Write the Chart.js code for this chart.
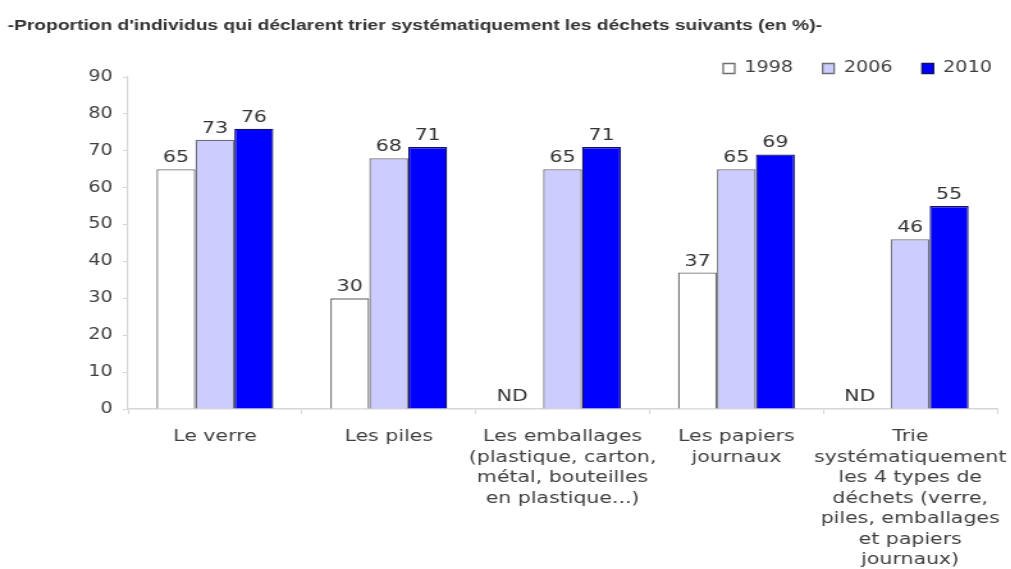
<!DOCTYPE html>
<html>
<head>
<meta charset="utf-8">
<script src="https://cdn.jsdelivr.net/npm/chart.js@4.4.1/dist/chart.umd.min.js"></script>
<style>
  body { margin: 0; background: #fff; overflow: hidden; }
  /* the reference image is stretched horizontally, so the chart is drawn narrower and widened */
  #wrap { width: 790px; height: 569px; transform: scaleX(1.28); transform-origin: 0 0; }
</style>
</head>
<body>
<div id="wrap"><canvas id="trisChart"></canvas></div>
<script>
const categories = [
    "Le verre",
    "Les piles",
    ["Les emballages", "(plastique, carton,", "métal, bouteilles", "en plastique...)"],
    ["Les papiers", "journaux"],
    ["Trie", "systématiquement", "les 4 types de", "déchets (verre,", "piles, emballages", "et papiers", "journaux)"]
];
const values1998 = [65, 30, null, 37, null];
const values2006 = [73, 68, 65, 65, 46];
const values2010 = [76, 71, 71, 69, 55];
const yTicks = [0, 10, 20, 30, 40, 50, 60, 70, 80, 90];

const axisFont = '"DejaVu Sans", Verdana, sans-serif';

// value labels above the bars, "ND" where there is no value
const barLabels = {
    id: 'barLabels',
    afterDatasetsDraw(chart) {
        const ctx = chart.ctx;
        const yScale = chart.scales.y;
        ctx.save();
        ctx.font = '16px ' + axisFont;
        ctx.fillStyle = '#333333';
        ctx.textAlign = 'center';
        ctx.textBaseline = 'alphabetic';
        chart.data.datasets.forEach((ds, i) => {
            chart.getDatasetMeta(i).data.forEach((bar, j) => {
                const v = ds.data[j];
                if (v === null) {
                    ctx.fillText('ND', bar.x - 9, yScale.getPixelForValue(0) - 8);
                } else {
                    ctx.fillText(String(v), bar.x, bar.y - 7);
                }
            });
        });
        ctx.restore();
    }
};

// legend: no extra 10px below it, and pushed a little to the right
const legendFit = {
    id: 'legendFit',
    afterInit(chart) {
        const fit = chart.legend.fit;
        chart.legend.fit = function () {
            fit.call(this);
            this.height = 39;
        };
    },
    afterLayout(chart) {
        chart.legend.left += 8;
        chart.legend.right += 8;
    }
};

const ctx = document.getElementById('trisChart').getContext('2d');
const trisChart = new Chart(ctx, {
    type: 'bar',
    data: {
        labels: categories,
        datasets: [
            {
                label: '1998',
                data: values1998,
                backgroundColor: '#ffffff',
                borderColor: '#6e6e6e',
                borderWidth: 1.3
            },
            {
                label: '2006',
                data: values2006,
                backgroundColor: '#ccccff',
                borderColor: '#6e6e78',
                borderWidth: 1.3
            },
            {
                label: '2010',
                data: values2010,
                backgroundColor: '#0000ff',
                borderColor: '#10106a',
                borderWidth: 1.3
            }
        ]
    },
    options: {
        responsive: true,
        maintainAspectRatio: false,
        animation: false,
        layout: { padding: { left: 6, right: 0, top: 0, bottom: 0 } },
        datasets: {
            bar: { categoryPercentage: 0.672, barPercentage: 1.0 }
        },
        plugins: {
            title: {
                display: true,
                text: "-Proportion d'individus qui déclarent trier systématiquement les déchets suivants (en %)-",
                align: 'start',
                color: '#333333',
                font: { family: '"Liberation Sans", Arial, sans-serif', size: 15, weight: 'bold' },
                padding: { top: 17, bottom: 3 }
            },
            legend: {
                position: 'top',
                align: 'end',
                labels: {
                    boxWidth: 9,
                    boxHeight: 10,
                    padding: 23,
                    color: '#404040',
                    font: { family: axisFont, size: 15 }
                }
            },
            tooltip: { enabled: false }
        },
        scales: {
            x: {
                grid: {
                    display: true,
                    offset: true,
                    drawOnChartArea: false,
                    drawTicks: true,
                    tickLength: 5,
                    color: '#d6d6d6'
                },
                border: { display: true, color: '#d6d6d6', width: 1.5 },
                ticks: {
                    color: '#404040',
                    font: { family: axisFont, size: 16, lineHeight: 1.28 },
                    padding: 13,
                    maxRotation: 0,
                    minRotation: 0,
                    autoSkip: false
                },
                afterFit: (scale) => {
                    scale.height = 160;
                    scale.paddingLeft = 0;
                    scale.paddingRight = 0;
                }
            },
            y: {
                min: 0,
                max: 90,
                afterBuildTicks: (scale) => { scale.ticks = yTicks.map(v => ({ value: v })); },
                grid: {
                    display: true,
                    drawOnChartArea: false,
                    drawTicks: true,
                    tickLength: 4,
                    color: '#d6d6d6'
                },
                border: { display: true, color: '#d6d6d6', width: 1.2 },
                ticks: {
                    color: '#404040',
                    font: { family: axisFont, size: 15 },
                    padding: 8
                },
                afterFit: (scale) => { scale.width = 94; }
            },
            yRight: {
                position: 'right',
                display: true,
                grid: { display: false },
                border: { display: false },
                ticks: { display: false },
                afterFit: (scale) => { scale.width = 11; }
            }
        }
    },
    plugins: [barLabels, legendFit]
});
</script>
</body>
</html>
